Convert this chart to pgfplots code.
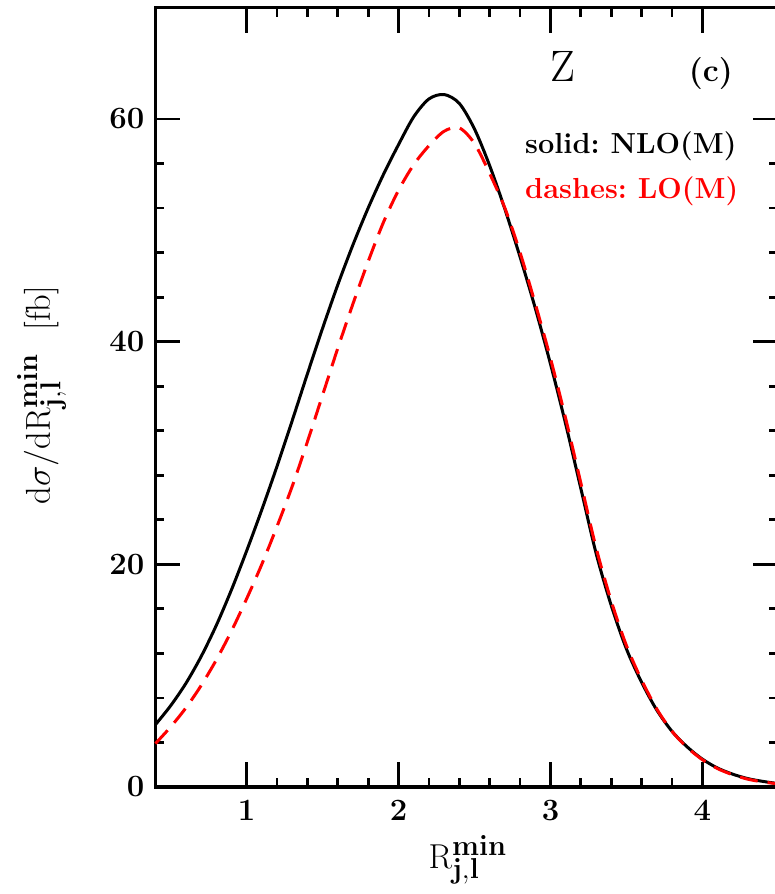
\documentclass[border=0pt]{standalone}
\usepackage{pgfplots}
\pgfplotsset{compat=1.18}
\pgfplotstableread{
x y
0.40 5.6
0.50 7.3
0.60 9.3
0.70 11.7
0.80 14.5
0.90 17.7
1.00 21.2
1.10 24.9
1.20 28.8
1.30 32.9
1.40 37.1
1.50 41.2
1.60 45.1
1.70 48.7
1.80 52.0
1.90 55.0
2.00 57.7
2.10 60.2
2.20 61.8
2.30 62.2
2.40 61.4
2.50 59.1
2.60 55.8
2.70 51.9
2.80 47.6
2.90 43.0
3.00 38.0
3.10 32.6
3.20 26.8
3.30 21.0
3.40 16.3
3.50 12.4
3.60 9.4
3.70 6.9
3.80 5.0
3.90 3.6
4.00 2.5
4.10 1.7
4.20 1.15
4.30 0.75
4.40 0.5
4.50 0.3
}\nlo
\pgfplotstableread{
x y
0.40 3.9
0.50 5.4
0.60 7.1
0.70 9.1
0.80 11.4
0.90 14.0
1.00 16.9
1.10 20.0
1.20 23.4
1.30 27.0
1.40 31.0
1.50 35.2
1.60 39.4
1.70 43.4
1.80 47.2
1.90 50.7
2.00 53.6
2.10 55.9
2.20 57.6
2.30 58.9
2.40 59.2
2.50 57.8
2.60 55.1
2.70 52.0
2.80 48.0
2.90 43.4
3.00 38.5
3.10 33.1
3.20 27.3
3.30 21.5
3.40 16.7
3.50 12.7
3.60 9.6
3.70 7.0
3.80 5.0
3.90 3.55
4.00 2.45
4.10 1.65
4.20 1.1
4.30 0.7
4.40 0.45
4.50 0.28
}\lo
\begin{document}
\begin{tikzpicture}
\begin{axis}[
  scale only axis, width=311.5pt, height=389.7pt,
  xmin=0.4, xmax=4.5, ymin=0, ymax=70,
  xtick={1,2,3,4}, ytick={0,20,40,60},
  minor x tick num=4, minor y tick num=4,
  tick align=inside,
  major tick length=12.5pt, minor tick length=4.5pt,
  every tick/.style={line width=1.4pt, black},
  axis line style={line width=1.8pt},
  /pgf/number format/assume math mode=true,
  ticklabel style={font=\fontsize{15.5}{18}\selectfont\bfseries},
  xticklabel style={yshift=-3pt},
  yticklabel style={xshift=-2pt},
  clip=false,
]
\addplot[black, line width=1.5pt, smooth] table {\nlo};
\addplot[red, line width=1.5pt, smooth, dash pattern=on 9pt off 5pt] table {\lo};
\node[anchor=base, font=\fontsize{22}{26}\selectfont] at (axis cs:3.081,63.4) {Z};
\node[anchor=base, font=\fontsize{16}{19}\selectfont\bfseries] at (axis cs:4.055,63.4) {(c)};
\node[anchor=base west, inner sep=0pt, font=\fontsize{14.5}{17}\selectfont\bfseries] at (axis cs:2.831,56.9) {solid:\ NLO(M)};
\node[anchor=base west, inner sep=0pt, text=red, font=\fontsize{14.5}{17}\selectfont\bfseries] at (axis cs:2.831,52.9) {dashes:\ LO(M)};
\node[anchor=base, font=\fontsize{19}{22}\selectfont] at (axis cs:2.456,-7.28) {$\mathrm{R}^{\mathbf{min}}_{\mathbf{j,l}}$};
\node[anchor=base, rotate=90, font=\fontsize{19}{22}\selectfont] at (axis cs:-0.294,35.2) {$\mathrm{d}\sigma/\mathrm{dR}^{\mathbf{min}}_{\mathbf{j,l}}\ \ [\mathrm{fb}]$};
\coordinate (bbsw) at (axis cs:-0.623,-9.61);
\coordinate (bbne) at (axis cs:4.476,70.69);
\end{axis}
\pgfresetboundingbox
\path[use as bounding box] (bbsw) rectangle (bbne);
\end{tikzpicture}
\end{document}
